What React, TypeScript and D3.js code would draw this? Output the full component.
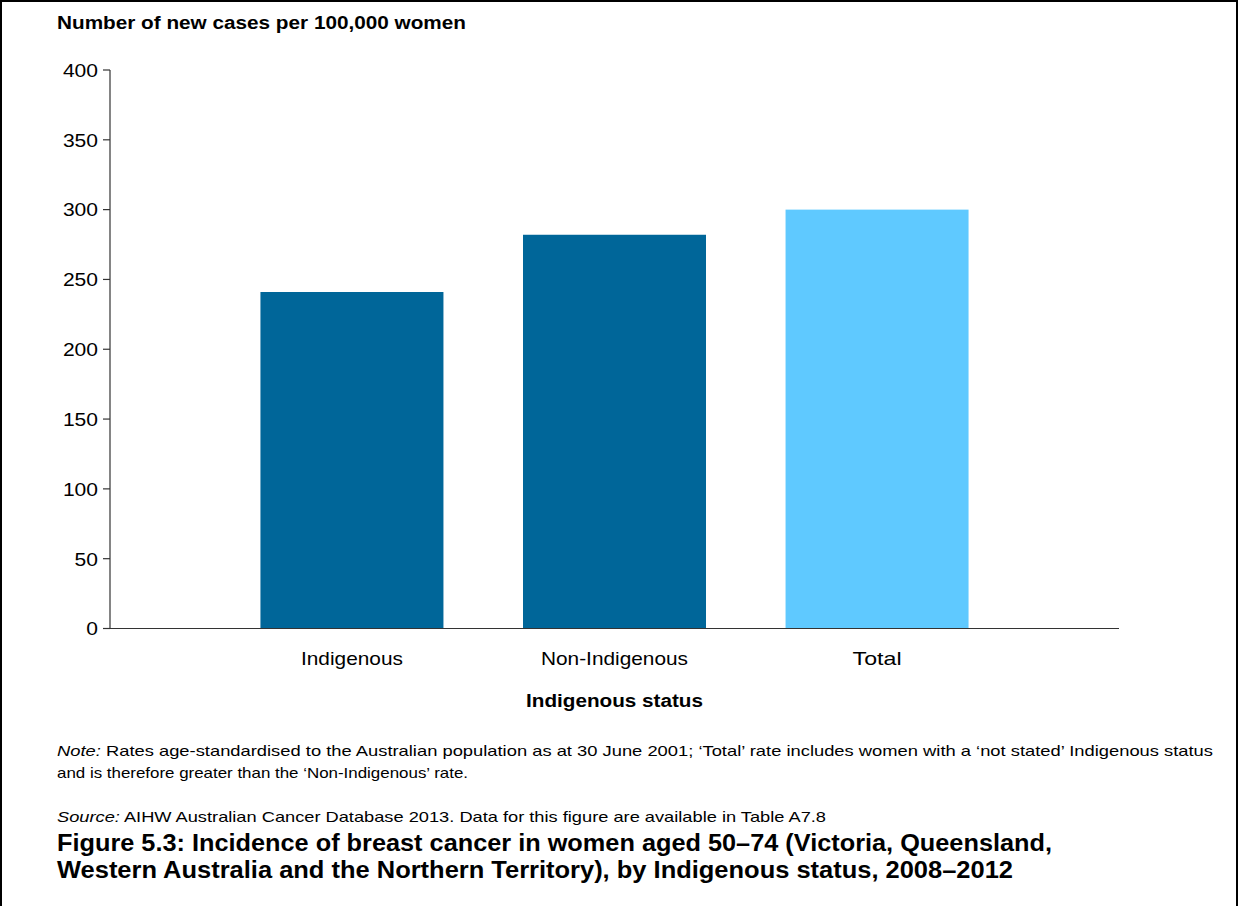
import React from "react";
import * as d3 from "d3";

const categories = ["Indigenous", "Non-Indigenous", "Total"];
const values = [241, 282, 300];
const barColors = ["#006699", "#006699", "#5FC9FF"];
const yTicks = [0, 50, 100, 150, 200, 250, 300, 350, 400];
const categoryWidths = [102, 147, 49];

const W = 1239;
const H = 906;
const FONT = "Arial, 'Liberation Sans', Helvetica, sans-serif";

export default function App() {
  const x0 = 110, x1 = 1119, yTop = 70, yBot = 628.5;
  const x = d3.scaleBand<string>().domain(categories).range([x0, x1]).paddingInner(0.303).paddingOuter(0.573);
  const y = d3.scaleLinear().domain([0, 400]).range([yBot, yTop]);
  const adj = "spacingAndGlyphs";

  return (
    <svg width={W} height={H} style={{ position: "absolute", left: 0, top: 0, background: "#fff" }} fontFamily={FONT}>
      <rect x={0} y={0} width={W} height={H} fill="#fff" />
      <rect x={1} y={1} width={W - 3} height={H} fill="none" stroke="#000" strokeWidth={2} />
      <text x={57} y={29} fontSize={17.5} fontWeight="bold" textLength={409} lengthAdjust={adj}>Number of new cases per 100,000 women</text>
      {categories.map((c, i) => (
        <rect key={c} x={x(c)} y={y(values[i])} width={x.bandwidth()} height={yBot - y(values[i])} fill={barColors[i]} />
      ))}
      <line x1={x0} x2={x0} y1={yTop} y2={yBot} stroke="#333" strokeWidth={1.2} />
      <line x1={x0} x2={x1} y1={yBot} y2={yBot} stroke="#333" strokeWidth={1.2} />
      {yTicks.map((t) => (
        <g key={t}>
          <line x1={x0 - 7} x2={x0} y1={y(t)} y2={y(t)} stroke="#333" strokeWidth={1.2} />
          <text x={x0 - 12} y={y(t)} dy="0.36em" textAnchor="end" fontSize={19} textLength={String(t).length * 11.7} lengthAdjust={adj}>{t}</text>
        </g>
      ))}
      {categories.map((c, i) => (
        <text key={c} x={(x(c) as number) + x.bandwidth() / 2 - categoryWidths[i] / 2} y={665} fontSize={19} textLength={categoryWidths[i]} lengthAdjust={adj}>{c}</text>
      ))}
      <text x={526} y={707} fontSize={18} fontWeight="bold" textLength={177} lengthAdjust={adj}>Indigenous status</text>
      <text x={57} y={755.5} fontSize={15} textLength={1156} lengthAdjust={adj}>
        <tspan fontStyle="italic">Note:</tspan> Rates age-standardised to the Australian population as at 30 June 2001; ‘Total’ rate includes women with a ‘not stated’ Indigenous status
      </text>
      <text x={57} y={778} fontSize={15} textLength={411} lengthAdjust={adj}>and is therefore greater than the ‘Non-Indigenous’ rate.</text>
      <text x={57} y={821.5} fontSize={15} textLength={769} lengthAdjust={adj}>
        <tspan fontStyle="italic">Source:</tspan> AIHW Australian Cancer Database 2013. Data for this figure are available in Table A7.8
      </text>
      <text x={57} y={851} fontSize={23} fontWeight="bold" textLength={995} lengthAdjust={adj}>Figure 5.3: Incidence of breast cancer in women aged 50–74 (Victoria, Queensland,</text>
      <text x={57} y={878} fontSize={23} fontWeight="bold" textLength={956} lengthAdjust={adj}>Western Australia and the Northern Territory), by Indigenous status, 2008–2012</text>
    </svg>
  );
}
